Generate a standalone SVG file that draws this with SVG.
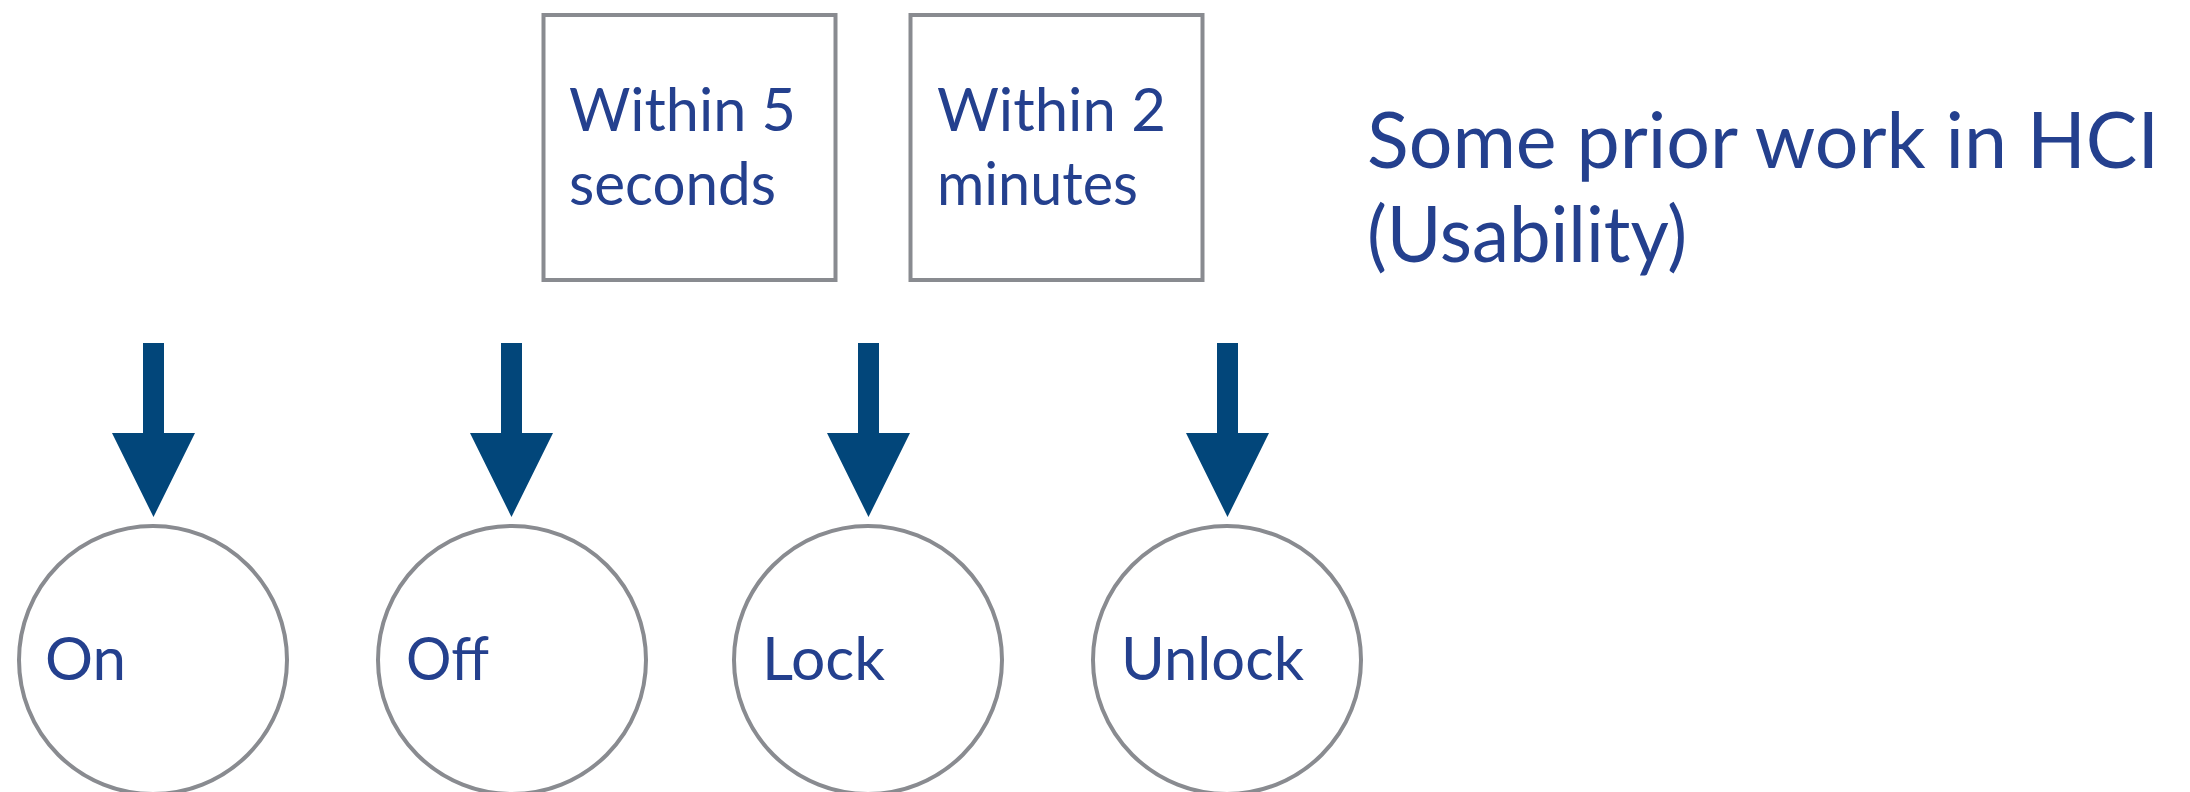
<svg xmlns="http://www.w3.org/2000/svg" width="2190" height="792" viewBox="0 0 2190 792">
<style>
.box{fill:#fff;stroke:#898b90;stroke-width:4}
.st{fill:#fff;stroke:#898b90;stroke-width:4}
.t{font-family:Lato,"Open Sans","Liberation Sans",sans-serif;font-size:60px;fill:#24408e}
.big{font-size:77px}
.arr{fill:#02467a}
</style>
<rect width="2190" height="792" fill="#fff"/>
<g id="box-5s">
<rect class="box" x="543.5" y="15" width="292" height="265"/>
<text class="t" x="569" y="131" textLength="227" lengthAdjust="spacingAndGlyphs">Within 5</text>
<text class="t" x="569" y="205" textLength="207" lengthAdjust="spacingAndGlyphs">seconds</text>
</g>
<g id="box-2m">
<rect class="box" x="910.5" y="15" width="292" height="265"/>
<text class="t" x="937" y="131" textLength="229" lengthAdjust="spacingAndGlyphs">Within 2</text>
<text class="t" x="937" y="205" textLength="201" lengthAdjust="spacingAndGlyphs">minutes</text>
</g>
<g id="connectors">
<path class="arr" d="M143 343H164V433H195L153.5 517L112 433H143Z"/>
<path class="arr" d="M501 343H522V433H553L511.5 517L470 433H501Z"/>
<path class="arr" d="M858 343H879V433H910L868.5 517L827 433H858Z"/>
<path class="arr" d="M1217 343H1238V433H1269L1227.5 517L1186 433H1217Z"/>
</g>
<g id="on">
<circle class="st" cx="153" cy="660" r="134"/>
<text class="t" x="45" y="680" textLength="81" lengthAdjust="spacingAndGlyphs">On</text>
</g>
<g id="off">
<circle class="st" cx="512" cy="660" r="134"/>
<text class="t" x="406" y="680" textLength="83" lengthAdjust="spacingAndGlyphs">Off</text>
</g>
<g id="lock">
<circle class="st" cx="868" cy="660" r="134"/>
<text class="t" x="762" y="680" textLength="123" lengthAdjust="spacingAndGlyphs">Lock</text>
</g>
<g id="unlock">
<circle class="st" cx="1227" cy="660" r="134"/>
<text class="t" x="1121" y="680" textLength="183" lengthAdjust="spacingAndGlyphs">Unlock</text>
</g>
<g id="note">
<text class="t big" x="1367" y="168" textLength="792" lengthAdjust="spacingAndGlyphs">Some prior work in HCI</text>
<text class="t big" x="1367" y="262" textLength="320" lengthAdjust="spacingAndGlyphs">(Usability)</text>
</g>
</svg>
